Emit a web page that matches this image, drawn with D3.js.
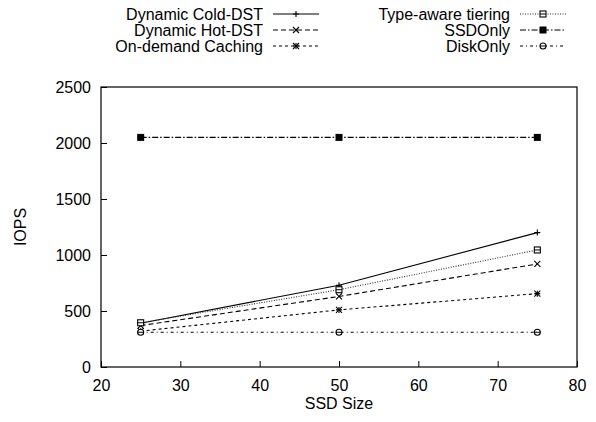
<!DOCTYPE html>
<html><head><meta charset="utf-8">
<script src="https://cdn.jsdelivr.net/npm/d3@7"></script>
<style>body{margin:0;background:#fff}svg{display:block;font-family:"Liberation Sans",Arial,sans-serif}</style>
</head><body><svg id="c" width="596" height="422"></svg>
<script>
const xValues = [25, 50, 75];
const xTicks = [20, 30, 40, 50, 60, 70, 80];
const yTicks = [0, 500, 1000, 1500, 2000, 2500];
const seriesNames = ["Dynamic Cold-DST","Dynamic Hot-DST","On-demand Caching","Type-aware tiering","SSDOnly","DiskOnly"];
const coldDST = [390, 730, 1200];
const hotDST = [370, 630, 920];
const onDemand = [320, 510, 655];
const typeAware = [395, 690, 1045];
const ssdOnly = [2050, 2050, 2050];
const diskOnly = [310, 310, 310];
const seriesValues = [coldDST, hotDST, onDemand, typeAware, ssdOnly, diskOnly];
const dashes = [null, "5,3", "3,3", "1,1.5", "6,2,1.5,2", "3,3,1,3"];
const strokes = ["#000","#000","#000","#333","#000","#000"];
const markers = ["plus","cross","star","boxline","boxfill","circle"];

const svg = d3.select("#c");
const m = {l:101, r:577, t:87, b:367};
const x = d3.scaleLinear().domain([20,80]).range([m.l, m.r]);
const y = d3.scaleLinear().domain([0,2500]).range([m.b, m.t]);

svg.append("rect").attr("x",m.l).attr("y",m.t).attr("width",m.r-m.l).attr("height",m.b-m.t)
  .attr("fill","none").attr("stroke","#000").attr("stroke-width",1.2);

const gx = svg.append("g").attr("transform",`translate(0,${m.b})`)
  .call(d3.axisBottom(x).tickValues(xTicks).tickFormat(d3.format("d")).tickSizeInner(-6).tickSizeOuter(0).tickPadding(13));
const gy = svg.append("g").attr("transform",`translate(${m.l},0)`)
  .call(d3.axisLeft(y).tickValues(yTicks).tickFormat(d3.format("d")).tickSizeInner(-6).tickSizeOuter(0).tickPadding(10));
[gx,gy].forEach(g=>{
  g.select(".domain").remove();
  g.selectAll("line").attr("stroke","#000");
  g.selectAll("text").attr("font-size",16).attr("fill","#000").attr("font-family","Liberation Sans, Arial, sans-serif");
});

svg.append("text").attr("x",(m.l+m.r)/2).attr("y",409).attr("text-anchor","middle")
  .attr("font-size",16).text("SSD Size");
svg.append("text").attr("transform",`translate(26,${(m.t+m.b)/2}) rotate(-90)`).attr("text-anchor","middle")
  .attr("font-size",16).text("IOPS");

function drawMarker(g, type, cx, cy){
  const s = 3;
  if(type==="plus"||type==="star"){
    g.append("path").attr("d",`M${cx-s},${cy}H${cx+s}M${cx},${cy-s}V${cy+s}`).attr("stroke","#000").attr("stroke-width",1.1);
  }
  if(type==="cross"||type==="star"){
    g.append("path").attr("d",`M${cx-s},${cy-s}L${cx+s},${cy+s}M${cx-s},${cy+s}L${cx+s},${cy-s}`).attr("stroke","#000").attr("stroke-width",1.1);
  }
  if(type==="boxline"){
    g.append("rect").attr("x",cx-3).attr("y",cy-3).attr("width",6).attr("height",6).attr("fill","#fff").attr("stroke","#000").attr("stroke-width",1.1);
    g.append("path").attr("d",`M${cx-3},${cy}H${cx+3}`).attr("stroke","#000").attr("stroke-width",1);
  }
  if(type==="boxfill"){
    g.append("rect").attr("x",cx-3.5).attr("y",cy-3.5).attr("width",7).attr("height",7).attr("fill","#000");
  }
  if(type==="circle"){
    g.append("circle").attr("cx",cx).attr("cy",cy).attr("r",3).attr("fill","#fff").attr("stroke","#000").attr("stroke-width",1.1);
    g.append("path").attr("d",`M${cx-3},${cy}H${cx+3}`).attr("stroke","#000").attr("stroke-width",1);
  }
}

const line = d3.line().x((d,i)=>x(xValues[i])).y(d=>y(d));
seriesValues.forEach((vals,k)=>{
  const g = svg.append("g");
  g.append("path").datum(vals).attr("d",line).attr("fill","none")
    .attr("stroke",strokes[k]).attr("stroke-width",1.1).attr("stroke-dasharray",dashes[k]);
  vals.forEach((v,i)=>drawMarker(g, markers[k], x(xValues[i]), y(v)));
});

const legCols = [{textX:263, x0:273, x1:319}, {textX:510, x0:520, x1:566}];
const legRows = [14, 30, 46];
seriesNames.forEach((name,k)=>{
  const c = legCols[Math.floor(k/3)], ry = legRows[k%3];
  const g = svg.append("g");
  g.append("text").attr("x",c.textX).attr("y",ry).attr("dy","0.35em").attr("text-anchor","end")
    .attr("font-size",16).text(name);
  g.append("path").attr("d",`M${c.x0},${ry}H${c.x1}`).attr("fill","none")
    .attr("stroke",strokes[k]).attr("stroke-width",1.1).attr("stroke-dasharray",dashes[k]);
  drawMarker(g, markers[k], (c.x0+c.x1)/2, ry);
});
</script></body></html>
